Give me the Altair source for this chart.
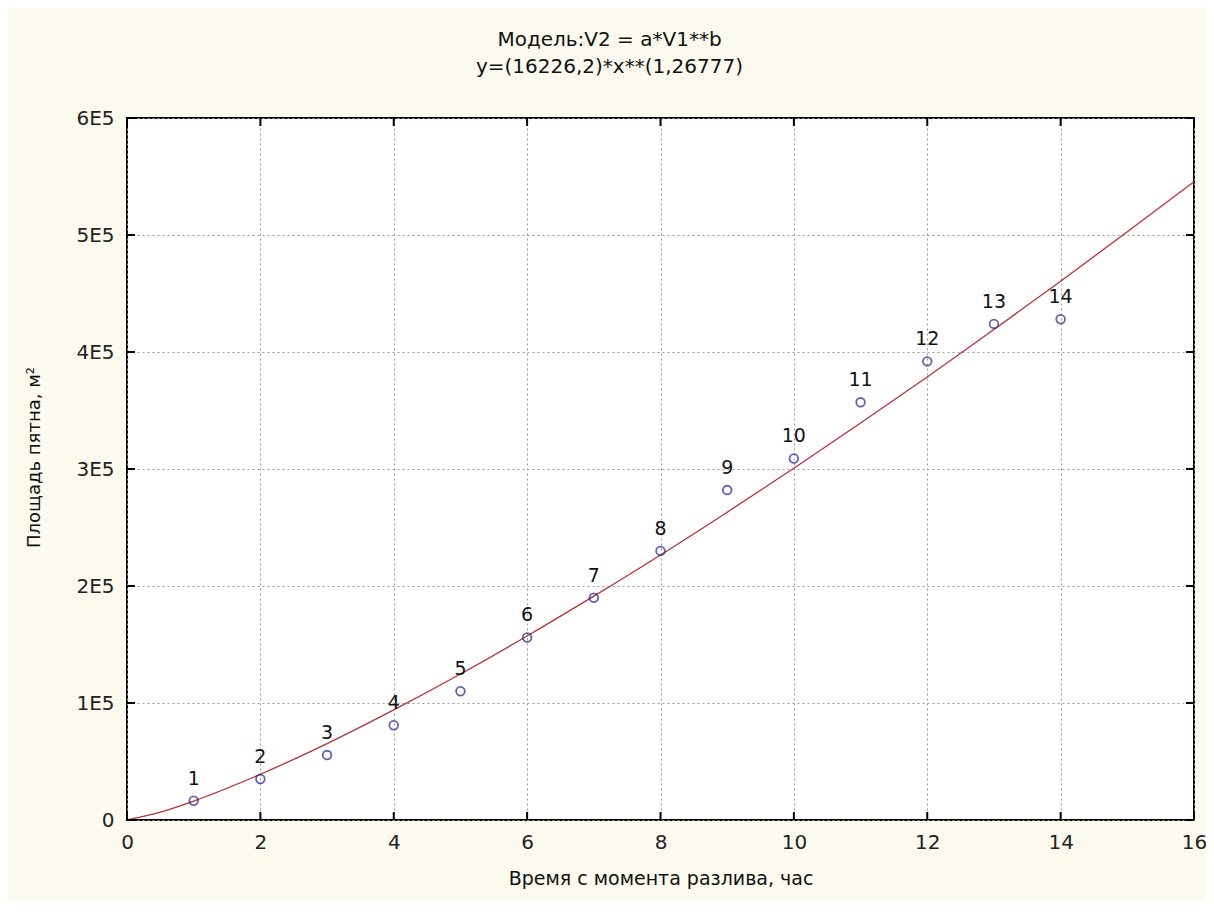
import altair as alt
import pandas as pd

# observed data (hours, area m^2)
hours = [1, 2, 3, 4, 5, 6, 7, 8, 9, 10, 11, 12, 13, 14]
area = [16500, 35000, 55500, 81000, 110000, 156000, 190000, 230000,
        282000, 309000, 357000, 392000, 424000, 428000]
point_labels = [str(i) for i in range(1, 15)]

# fitted curve
curve_x = [0, 0.5, 1, 2, 3, 4, 5, 6, 7, 8, 9, 10, 11, 12, 13, 14, 15, 16]
curve_y = [0, 6700, 16200, 39100, 65300, 94100, 124800, 157300, 191300,
           226500, 263100, 300600, 339300, 378700, 419200, 460500, 502700, 545500]

x_ticks = [0, 2, 4, 6, 8, 10, 12, 14, 16]
y_ticks = [0, 100000, 200000, 300000, 400000, 500000, 600000]
y_tick_labels = ["0", "1E5", "2E5", "3E5", "4E5", "5E5", "6E5"]

pts = pd.DataFrame({"x": hours, "y": area, "lab": point_labels})
crv = pd.DataFrame({"x": curve_x, "y": curve_y})
xt = pd.DataFrame({"v": x_ticks})
yt = pd.DataFrame({"v": y_ticks})

W, H = 1067, 702
FONT = "DejaVu Sans"

label_expr = ("{" + ",".join(f"'{v}':'{l}'" for v, l in zip(y_ticks, y_tick_labels)) +
              "}[''+datum.value]")

xs = alt.Scale(domain=[0, 16], nice=False, zero=False)
ys = alt.Scale(domain=[0, 600000], nice=False)

x_axis = alt.Axis(values=x_ticks, title="Время с момента разлива, час", ticks=False,
                  format="d",
                  labelFontSize=20, labelPadding=12, labelColor="#222",
                  grid=True, gridDash=[2, 3], gridColor="#999", gridWidth=1,
                  domain=False, titleFontSize=19, titleFontWeight="normal",
                  titleX=W / 2, titleY=49, titleColor="#111", labelFlush=False)
y_axis = alt.Axis(values=y_ticks, title="Площадь пятна, м²", ticks=False,
                  labelFontSize=20, labelPadding=13, labelColor="#222",
                  labelExpr=label_expr,
                  grid=True, gridDash=[2, 3], gridColor="#999", gridWidth=1,
                  domain=False, titleFontSize=18, titleFontWeight="normal",
                  titleX=-84, titleY=H / 2 - 12, titleColor="#111", labelFlush=False)

base_x = alt.X("x:Q", scale=xs, axis=x_axis)
base_y = alt.Y("y:Q", scale=ys, axis=y_axis)

curve = alt.Chart(crv).mark_line(color="#b83038", strokeWidth=1.3, interpolate="monotone").encode(
    x=base_x, y=base_y)

points = alt.Chart(pts).mark_point(shape="circle", filled=False, color="#22228f",
                                   size=75, strokeWidth=1.8).encode(
    x=alt.X("x:Q", scale=xs), y=alt.Y("y:Q", scale=ys))

labels = alt.Chart(pts).mark_text(font=FONT, fontSize=19, color="#111", dy=-22).encode(
    x=alt.X("x:Q", scale=xs), y=alt.Y("y:Q", scale=ys), text="lab:N")

# inward tick marks
tick_bottom = alt.Chart(xt).mark_rule(color="#000", strokeWidth=2).encode(
    x=alt.X("v:Q", scale=xs), y=alt.value(H - 8), y2=alt.value(H))
tick_top = alt.Chart(xt).mark_rule(color="#000", strokeWidth=2).encode(
    x=alt.X("v:Q", scale=xs), y=alt.value(0), y2=alt.value(8))
tick_left = alt.Chart(yt).mark_rule(color="#000", strokeWidth=2).encode(
    y=alt.Y("v:Q", scale=ys), x=alt.value(0), x2=alt.value(8))
tick_right = alt.Chart(yt).mark_rule(color="#000", strokeWidth=2).encode(
    y=alt.Y("v:Q", scale=ys), x=alt.value(W - 8), x2=alt.value(W))

chart = alt.layer(curve, points, labels, tick_bottom, tick_top, tick_left, tick_right).properties(
    width=W, height=H,
    background="#fcf9ee",
    padding={"left": 119, "top": 110, "right": 12, "bottom": 80},
    autosize=alt.AutoSizeParams(type="none"),
    title=alt.TitleParams(
        text=["Модель:V2 = a*V1**b", "y=(16226,2)*x**(1,26777)"],
        fontSize=20, font=FONT, fontWeight="normal", color="#111",
        anchor="middle", lineHeight=27, offset=31, dx=-51),
).configure_view(
    stroke="#000", strokeWidth=2, fill="#ffffff"
).configure_axis(
    labelFont=FONT, titleFont=FONT
)

chart.save("out.html", embed_options={"renderer": "svg", "actions": False})
